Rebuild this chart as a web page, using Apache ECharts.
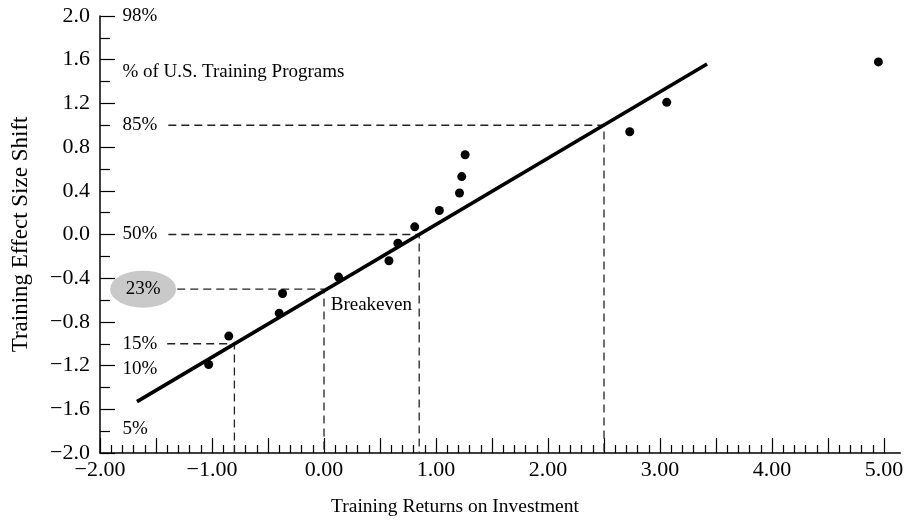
<!DOCTYPE html>
<html>
<head>
<meta charset="utf-8">
<script src="https://cdn.jsdelivr.net/npm/echarts@6/dist/echarts.min.js"></script>
<style>
  html, body { margin: 0; padding: 0; background: #fff; }
  #main { width: 911px; height: 522px; }
</style>
</head>
<body>
<div id="main"></div>
<script>
// scatter points: training ROI vs effect size shift
const pointsX = [-1.03, -0.85, -0.40, -0.37, 0.13, 0.58, 0.66, 0.81, 1.03, 1.21, 1.23, 1.26, 2.73, 3.06, 4.95];
const pointsY = [-1.19, -0.93, -0.72, -0.54, -0.39, -0.24, -0.08, 0.07, 0.22, 0.38, 0.53, 0.73, 0.94, 1.21, 1.58];

// fitted line end points
const fitX = [-1.67, 3.42];
const fitY = [-1.53, 1.56];

// dashed guides: percent level, effect size, ROI where it meets the fit line
const guidePct = ['85%', '50%', '23%', '15%'];
const guideY = [1.0, 0.0, -0.5, -1.0];
const guideX = [2.5, 0.85, 0.0, -0.8];
const guideStartX = [-1.39, -1.39, -1.31, -1.40];

// percent labels along the left of the plot
const pctLabels = ['98%', '85%', '50%', '15%', '10%', '5%'];
const pctY = [2.0, 1.0, 0.0, -1.0, -1.23, -1.78];
const pctX = -1.80;

const minus = s => s.replace('-', '\u2212');
const font = 'Liberation Serif';
const ink = '#000';

const chart = echarts.init(document.getElementById('main'));

const guideSeries = guideY.map((y, i) => ({
  type: 'line',
  data: [[guideStartX[i], y], [guideX[i], y], [guideX[i], -2]],
  symbol: 'none',
  silent: true,
  z: 1,
  lineStyle: { color: '#222', width: 1.3, type: [8, 5] }
}));

const textSeries = (data, size) => ({
  type: 'scatter',
  data: data,
  symbolSize: 0,
  silent: true,
  itemStyle: { opacity: 1 },
  label: {
    show: true, position: 'right', distance: 0, formatter: '{b}',
    fontFamily: font, fontSize: size, color: ink
  }
});

const option = {
  backgroundColor: '#fff',
  animation: false,
  grid: { left: 100, right: 27, top: 16, bottom: 67 },
  xAxis: {
    type: 'value',
    min: -2,
    max: 5,
    interval: 0.5,
    name: 'Training Returns on Investment',
    nameLocation: 'middle',
    nameGap: 44,
    nameTextStyle: { fontFamily: font, fontSize: 19.5, color: ink, padding: [0, 74, 0, 0] },
    axisLine: { onZero: false, lineStyle: { color: ink, width: 1.5 } },
    axisTick: { inside: true, length: 15, lineStyle: { color: ink, width: 1.2 } },
    minorTick: { show: true, splitNumber: 5, length: 8, lineStyle: { color: ink, width: 1.2 } },
    splitLine: { show: false },
    axisLabel: {
      fontFamily: font, fontSize: 22, color: ink, margin: 6,
      formatter: v => Math.abs(v - Math.round(v)) < 1e-6 ? minus(v.toFixed(2)) : ''
    }
  },
  yAxis: {
    type: 'value',
    min: -2,
    max: 2,
    interval: 0.4,
    name: 'Training Effect Size Shift',
    nameLocation: 'middle',
    nameGap: 68,
    nameTextStyle: { fontFamily: font, fontSize: 23, color: ink },
    axisLine: { onZero: false, lineStyle: { color: ink, width: 1.5 } },
    axisTick: { inside: true, length: 15, lineStyle: { color: ink, width: 1.2 } },
    minorTick: { show: true, splitNumber: 2, length: 10, lineStyle: { color: ink, width: 1.2 } },
    splitLine: { show: false },
    axisLabel: {
      fontFamily: font, fontSize: 22, color: ink, margin: 10,
      formatter: v => Math.abs(v) < 1e-6 ? '0.0' : minus(v.toFixed(1))
    }
  },
  series: [
    ...guideSeries,
    {
      type: 'line',
      data: fitX.map((x, i) => [x, fitY[i]]),
      symbol: 'none',
      z: 3,
      lineStyle: { color: ink, width: 3.6 }
    },
    {
      type: 'scatter',
      data: pointsX.map((x, i) => [x, pointsY[i]]),
      symbolSize: 9,
      clip: false,
      z: 4,
      itemStyle: { color: ink, opacity: 1 }
    },
    textSeries(pctY.map((y, i) => ({ value: [pctX, y], name: pctLabels[i] })), 19),
    {
      // highlighted breakeven percent
      type: 'scatter',
      data: [{ value: [-1.615, -0.5], name: '23%' }],
      symbol: 'circle',
      symbolSize: [66, 37],
      silent: true,
      itemStyle: { color: '#c9c9c9', opacity: 1 },
      label: {
        show: true, position: 'inside', formatter: '{b}',
        fontFamily: font, fontSize: 19, color: ink
      }
    },
    textSeries([
      { value: [pctX, 1.49], name: '% of U.S. Training Programs' },
      { value: [0.06, -0.645], name: 'Breakeven' }
    ], 19)
  ]
};

chart.setOption(option);

// the x axis line runs a little past the last tick
const a = chart.convertToPixel({ gridIndex: 0 }, [5, -2]);
const b = chart.convertToPixel({ gridIndex: 0 }, [5.15, -2]);
chart.setOption({
  graphic: [{
    type: 'line',
    shape: { x1: a[0], y1: a[1], x2: b[0], y2: b[1] },
    style: { stroke: ink, lineWidth: 1.5 },
    silent: true
  }]
});
</script>
</body>
</html>
